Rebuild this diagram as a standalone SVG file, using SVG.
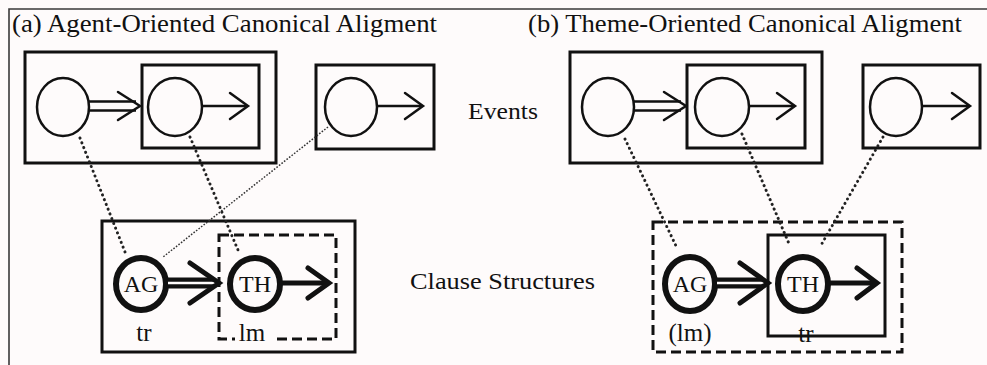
<svg xmlns="http://www.w3.org/2000/svg" width="987" height="365" viewBox="0 0 987 365">
  <defs>
    <style>
      .bg { fill: #fefbfb; }
      .frame { fill: none; stroke: #3a3a3a; stroke-width: 1.6; }
      .box { fill: none; stroke: #111; stroke-width: 3; }
      .dbox { fill: none; stroke: #111; stroke-width: 3; stroke-dasharray: 10 5; }
      .ev { fill: none; stroke: #111; stroke-width: 2.5; }
      .role { fill: none; stroke: #111; stroke-width: 6; }
      .thin { fill: none; stroke: #111; stroke-width: 2.5; }
      .head { fill: none; stroke: #111; stroke-width: 2.5; stroke-linecap: round; stroke-linejoin: miter; }
      .thick { fill: none; stroke: #111; stroke-width: 5; stroke-linecap: round; stroke-linejoin: miter; }
      .dbar { fill: none; stroke: #111; stroke-width: 11; }
      .dgap { fill: none; stroke: #fefbfb; stroke-width: 2.5; }
      .dot { fill: none; stroke: #222; stroke-width: 3; stroke-dasharray: 0.1 5; stroke-linecap: round; }
      .fine { fill: none; stroke: #333; stroke-width: 1.5; stroke-dasharray: 1.6 1.6; }
      text { font-family: "Liberation Serif", "DejaVu Serif", serif; fill: #111; }
      .title { font-size: 25px; }
      .side { font-size: 24px; }
      .cap { font-size: 24px; }
      .lab { font-size: 25px; }
    </style>
  </defs>

  <rect class="bg" x="0" y="0" width="987" height="365"/>
  <path class="frame" d="M9 365 V9 H987"/>

  <!-- headings -->
  <text class="title" x="12" y="32" textLength="425" lengthAdjust="spacingAndGlyphs">(a) Agent-Oriented Canonical Aligment</text>
  <text class="title" x="528" y="32" textLength="434" lengthAdjust="spacingAndGlyphs">(b) Theme-Oriented Canonical Aligment</text>
  <text class="side" x="468" y="119" textLength="70" lengthAdjust="spacingAndGlyphs">Events</text>
  <text class="side" x="410" y="289" textLength="185" lengthAdjust="spacingAndGlyphs">Clause Structures</text>

  <!-- panel (a): events -->
  <g id="a-event-outer">
    <rect class="box" x="25" y="52" width="251" height="111"/>
    <ellipse class="ev" cx="63" cy="107" rx="26" ry="29"/>
    <path class="thin" d="M89 101.5 H136 M89 110.5 H136"/>
    <path class="head" d="M118 92 L140 106 L118 120"/>
  </g>
  <g id="a-event-inner">
    <rect class="box" x="142" y="65" width="117" height="83"/>
    <ellipse class="ev" cx="175" cy="107" rx="27" ry="29"/>
    <path class="thin" d="M202 106 H246"/>
    <path class="head" d="M230 93 L248 106 L230 119"/>
  </g>
  <g id="a-event-right">
    <rect class="box" x="316" y="65" width="118" height="84"/>
    <ellipse class="ev" cx="351" cy="107" rx="26" ry="29"/>
    <path class="thin" d="M377 106 H421"/>
    <path class="head" d="M405 93 L423 106 L405 119"/>
  </g>

  <!-- panel (a): clause structure -->
  <g id="a-clause">
    <rect class="box" x="102" y="221" width="253" height="131"/>
    <rect class="dbox" x="219" y="235" width="117" height="104"/>
  </g>
  <g id="a-ag">
    <ellipse class="role" cx="141" cy="284" rx="25" ry="26"/>
    <text class="cap" x="141" y="292" text-anchor="middle">AG</text>
    <text class="lab" x="144" y="341" text-anchor="middle">tr</text>
  </g>
  <g id="a-th">
    <ellipse class="role" cx="255" cy="284" rx="25" ry="26"/>
    <text class="cap" x="255" y="292" text-anchor="middle">TH</text>
    <rect class="bg" x="235" y="331" width="38" height="14"/>
    <text class="lab" x="252" y="341" text-anchor="middle">lm</text>
  </g>

  <!-- panel (b): events -->
  <g id="b-event-outer">
    <rect class="box" x="570" y="52" width="252" height="111"/>
    <ellipse class="ev" cx="608" cy="107" rx="26" ry="29"/>
    <path class="thin" d="M634 101.5 H681 M634 110.5 H681"/>
    <path class="head" d="M664 92 L686 106 L664 120"/>
  </g>
  <g id="b-event-inner">
    <rect class="box" x="687" y="65" width="118" height="83"/>
    <ellipse class="ev" cx="722" cy="107" rx="27" ry="29"/>
    <path class="thin" d="M749 106 H793"/>
    <path class="head" d="M777 93 L795 106 L777 119"/>
  </g>
  <g id="b-event-right">
    <rect class="box" x="863" y="65" width="117" height="83"/>
    <ellipse class="ev" cx="896" cy="107" rx="26" ry="29"/>
    <path class="thin" d="M922 106 H968"/>
    <path class="head" d="M952 93 L970 106 L952 119"/>
  </g>

  <!-- panel (b): clause structure -->
  <g id="b-ag">
    <ellipse class="role" cx="690" cy="284" rx="25" ry="27"/>
    <text class="cap" x="690" y="292" text-anchor="middle">AG</text>
    <text class="lab" x="690" y="341" text-anchor="middle">(lm)</text>
  </g>
  <g id="b-th">
    <ellipse class="role" cx="803" cy="284" rx="25" ry="27"/>
    <text class="cap" x="803" y="292" text-anchor="middle">TH</text>
    <text class="lab" x="806" y="342" text-anchor="middle">tr</text>
  </g>
  <g id="b-clause">
    <rect class="dbox" x="653" y="222" width="249" height="130"/>
    <rect class="box" x="768" y="235" width="117" height="101"/>
  </g>

  <!-- connectors -->
  <g id="connectors">
    <!-- clause arrows -->
    <path class="dbar" d="M166 283 H214"/>
    <path class="dgap" d="M168 283 H214"/>
    <path class="thick" d="M190 263 L219 283 L190 303"/>
    <path class="thick" d="M282 283 H327"/>
    <path class="thick" d="M308 268 L329 283 L308 298"/>

    <path class="dbar" d="M715 283 H763"/>
    <path class="dgap" d="M717 283 H763"/>
    <path class="thick" d="M740 263 L768 283 L740 303"/>
    <path class="thick" d="M829 283 H874"/>
    <path class="thick" d="M857 268 L877 283 L857 298"/>

    <!-- event-to-participant correspondences -->
    <path class="dot" d="M80 138 L125 252"/>
    <path class="dot" d="M190 137 L238 250"/>
    <path class="fine" d="M328 127 L163 257"/>

    <path class="dot" d="M625 139 L677 248"/>
    <path class="dot" d="M742 134 L790 246"/>
    <path class="dot" d="M883 137 L820 247"/>
  </g>
</svg>
